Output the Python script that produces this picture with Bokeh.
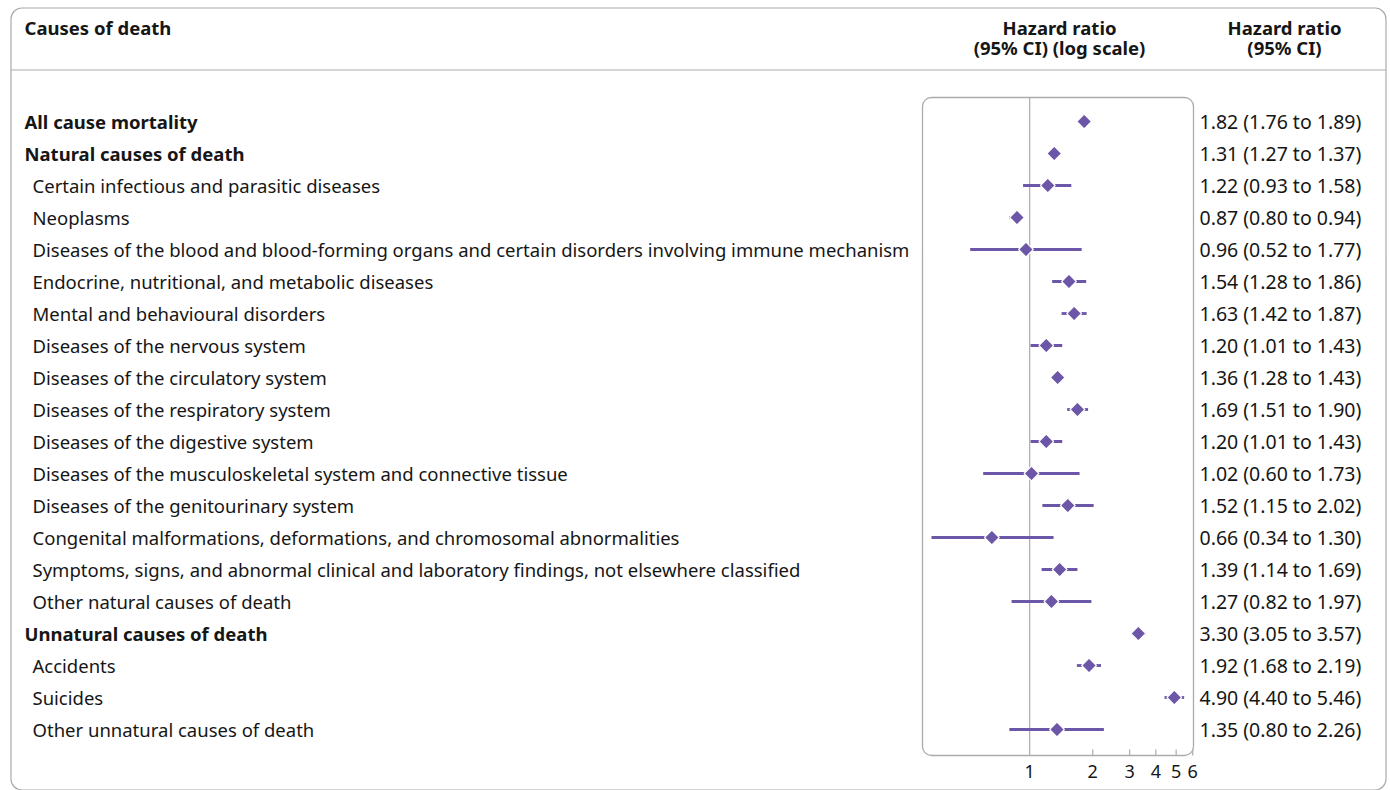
import math
from bokeh.plotting import figure
from bokeh.models import ColumnDataSource, Range1d, BoxAnnotation, LogScale
from bokeh.core.properties import value
from bokeh.embed import file_html
from bokeh.resources import INLINE

causes = [
    "All cause mortality",
    "Natural causes of death",
    "Certain infectious and parasitic diseases",
    "Neoplasms",
    "Diseases of the blood and blood-forming organs and certain disorders involving immune mechanism",
    "Endocrine, nutritional, and metabolic diseases",
    "Mental and behavioural disorders",
    "Diseases of the nervous system",
    "Diseases of the circulatory system",
    "Diseases of the respiratory system",
    "Diseases of the digestive system",
    "Diseases of the musculoskeletal system and connective tissue",
    "Diseases of the genitourinary system",
    "Congenital malformations, deformations, and chromosomal abnormalities",
    "Symptoms, signs, and abnormal clinical and laboratory findings, not elsewhere classified",
    "Other natural causes of death",
    "Unnatural causes of death",
    "Accidents",
    "Suicides",
    "Other unnatural causes of death",
]
is_group = [True, True] + [False] * 14 + [True, False, False, False]
hr = [1.82, 1.31, 1.22, 0.87, 0.96, 1.54, 1.63, 1.20, 1.36, 1.69, 1.20, 1.02,
      1.52, 0.66, 1.39, 1.27, 3.30, 1.92, 4.90, 1.35]
lo = [1.76, 1.27, 0.93, 0.80, 0.52, 1.28, 1.42, 1.01, 1.28, 1.51, 1.01, 0.60,
      1.15, 0.34, 1.14, 0.82, 3.05, 1.68, 4.40, 0.80]
hi = [1.89, 1.37, 1.58, 0.94, 1.77, 1.86, 1.87, 1.43, 1.43, 1.90, 1.43, 1.73,
      2.02, 1.30, 1.69, 1.97, 3.57, 2.19, 5.46, 2.26]
ticks = [1, 2, 3, 4, 5, 6]
tick_labels = ["1", "2", "3", "4", "5", "6"]
header_left = "Causes of death"
header_mid = ["Hazard ratio", "(95% CI) (log scale)"]
header_right = ["Hazard ratio", "(95% CI)"]

PURPLE = "#6b56a7"
GREY = "#ababab"
TXT = "#161616"
FONT = "Noto Sans"

# ---- layout (canvas pixels) ----
W, H = 1390, 790
BOX_L, BOX_R, BOX_T, BOX_B = 922, 1193, 97, 755
HR_MIN, HR_MAX = 0.308, 6.05          # log-axis limits of the forest box
ROW0_Y, ROW_STEP = 121, 32            # pixel y of first row, row spacing

# log range for the whole canvas width so that the box spans HR_MIN..HR_MAX
dec = (BOX_R - BOX_L) / (math.log10(HR_MAX) - math.log10(HR_MIN))
hr_start = 10 ** (math.log10(HR_MIN) - BOX_L / dec)
hr_end = 10 ** (math.log10(HR_MIN) + (W - BOX_L) / dec)
row_top = (0 - ROW0_Y) / ROW_STEP
row_bot = (H - ROW0_Y) / ROW_STEP
box_row_top = (BOX_T - ROW0_Y) / ROW_STEP
box_row_bot = (BOX_B - ROW0_Y) / ROW_STEP

p = figure(width=W, height=H, output_backend="svg", toolbar_location=None,
           x_range=Range1d(0, W), y_range=Range1d(H, 0),
           x_axis_location=None, y_axis_location=None,
           min_border=0, background_fill_color="white",
           border_fill_color="white")
p.outline_line_color = None
p.grid.visible = False
p.extra_x_ranges = {"hr": Range1d(hr_start, hr_end)}
p.extra_x_scales = {"hr": LogScale()}
p.extra_y_ranges = {"row": Range1d(row_bot, row_top)}

rows = list(range(len(causes)))
ci_text = [f"{h:.2f} ({l:.2f} to {u:.2f})" for h, l, u in zip(hr, lo, hi)]

# outer rounded border and header rule
p.add_layout(BoxAnnotation(left=10.5, right=1385.5, top=7.5, bottom=789.5,
                           fill_alpha=0, line_color=GREY, line_alpha=1,
                           line_width=1.2, border_radius=11))
p.segment(x0=[10.5], x1=[1385.5], y0=[69.5], y1=[69.5], line_color=GREY,
          line_width=1.2)

# forest box
p.add_layout(BoxAnnotation(left=HR_MIN, right=HR_MAX, top=box_row_top,
                           bottom=box_row_bot, x_range_name="hr",
                           y_range_name="row", fill_alpha=0,
                           line_color=GREY, line_alpha=1, line_width=1.3,
                           border_radius=9))
# reference line at HR = 1
p.segment(x0=[1], x1=[1], y0=[box_row_top], y1=[box_row_bot],
          x_range_name="hr", y_range_name="row", line_color=GREY,
          line_width=1.2)
# axis ticks and labels
p.segment(x0=ticks[1:], x1=ticks[1:], y0=[BOX_B] * 5, y1=[BOX_B - 6] * 5,
          x_range_name="hr", line_color=GREY, line_width=1.2)
p.text(x=ticks, y=[BOX_B + 16] * len(ticks), text=tick_labels,
       x_range_name="hr", text_align="center", text_baseline="middle",
       text_font=value(FONT), text_font_size="18px", text_color=TXT)

src = ColumnDataSource(dict(y=rows, hr=hr, lo=lo, hi=hi, name=causes,
                            ci=ci_text,
                            tx=[24 if g else 32 for g in is_group],
                            fw=["bold" if g else "normal" for g in is_group]))

p.segment(x0="lo", x1="hi", y0="y", y1="y", source=src, x_range_name="hr",
          y_range_name="row", line_color=PURPLE, line_width=2.8)
p.scatter(x="hr", y="y", source=src, x_range_name="hr", y_range_name="row",
          marker="square", angle=math.pi / 4, size=10.5, fill_color=PURPLE,
          line_color="white", line_width=1.2)

p.text(x="tx", y="y", text="name", source=src, y_range_name="row",
       text_baseline="middle", text_font=value(FONT), text_font_size="18.5px",
       text_font_style="fw", text_color=TXT)
p.text(x=1199, y="y", text="ci", source=src, y_range_name="row",
       text_baseline="middle", text_font=value(FONT), text_font_size="19.5px",
       text_color=TXT)

# header
hdr = dict(text_baseline="middle", text_font=value(FONT),
           text_font_size="18.5px", text_font_style="bold", text_color=TXT)
p.text(x=[24], y=[27], text=[header_left], **hdr)
p.text(x=[1059, 1059], y=[27, 47], text=header_mid, text_align="center", **hdr)
p.text(x=[1284, 1284], y=[27, 47], text=header_right, text_align="center", **hdr)

open("out.html", "w").write(file_html(p, INLINE))
